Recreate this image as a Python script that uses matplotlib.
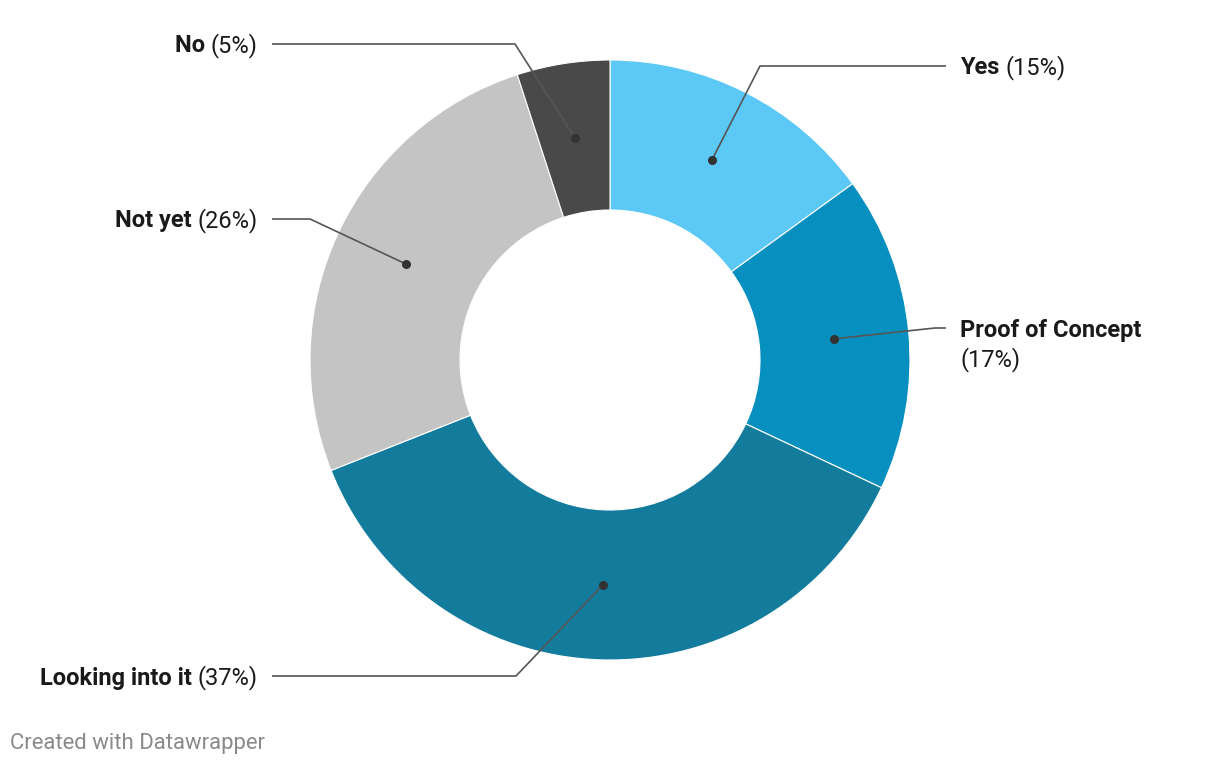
import matplotlib
matplotlib.use("Agg")
import matplotlib.pyplot as plt
import numpy as np

# data
labels = ["Yes", "Proof of Concept", "Looking into it", "Not yet", "No"]
shares = [15, 17, 37, 26, 5]
colors = ["#5bc8f5", "#0790bf", "#137c9d", "#c4c4c4", "#494949"]

plt.rcParams['font.family'] = ['Roboto', 'DejaVu Sans']

W, H = 1220, 766
fig = plt.figure(figsize=(W / 100, H / 100), dpi=100)
ax = fig.add_axes([0, 0, 1, 1])

cx, cy, R = 610, 360, 300
ax.pie(shares, colors=colors, startangle=-90, counterclock=True,
       center=(cx, cy), radius=R, frame=True,
       wedgeprops=dict(width=150, edgecolor="white", linewidth=0.8))
ax.set_xlim(0, W)
ax.set_ylim(H, 0)
ax.axis("off")
ax.set_aspect("auto")

# label layout: (elbow x, label y, side)
layout = {
    "Yes": (760, 66, "right"),
    "Proof of Concept": (935, 328, "right"),
    "Looking into it": (516, 676, "left"),
    "Not yet": (310, 219, "left"),
    "No": (515, 44, "left"),
}

renderer = fig.canvas.get_renderer()
fs = 17
off = 2  # nudge text down a little
line_col = "#555555"
cum = 0
for lab, val in zip(labels, shares):
    mid = -90 + (cum + val / 2) / 100 * 360
    cum += val
    dx = cx + 225 * np.cos(np.radians(mid))
    dy = cy + 225 * np.sin(np.radians(mid))
    ex, ly, side = layout[lab]
    if side == "right":
        endx = 946
        tx = 960
    else:
        endx = 272
        tx = 258
    ax.plot([dx, ex, endx], [dy, ly, ly], color=line_col, lw=1.2, solid_capstyle="butt")
    ax.plot(dx, dy, "o", color="#333333", ms=5.5)
    pct = "(%d%%)" % val
    if lab == "Proof of Concept":
        ax.text(tx, ly + off, lab, fontsize=fs, fontweight="bold", color="#1a1a1a",
                ha="left", va="center")
        ax.text(tx, ly + 30 + off, pct, fontsize=fs, color="#1a1a1a", ha="left", va="center")
    elif side == "right":
        t = ax.text(tx, ly + off, lab + " ", fontsize=fs, fontweight="bold", color="#1a1a1a",
                    ha="left", va="center")
        w = t.get_window_extent(renderer).width
        ax.text(tx + w, ly + off, pct, fontsize=fs, color="#1a1a1a", ha="left", va="center")
    else:
        t = ax.text(tx, ly + off, pct, fontsize=fs, color="#1a1a1a", ha="right", va="center")
        w = t.get_window_extent(renderer).width
        ax.text(tx - w, ly + off, lab + " ", fontsize=fs, fontweight="bold", color="#1a1a1a",
                ha="right", va="center")

ax.text(10, 743, "Created with Datawrapper", fontsize=15.9, color="#8a8a8a",
        ha="left", va="center")

fig.savefig("out.png", dpi=100)
